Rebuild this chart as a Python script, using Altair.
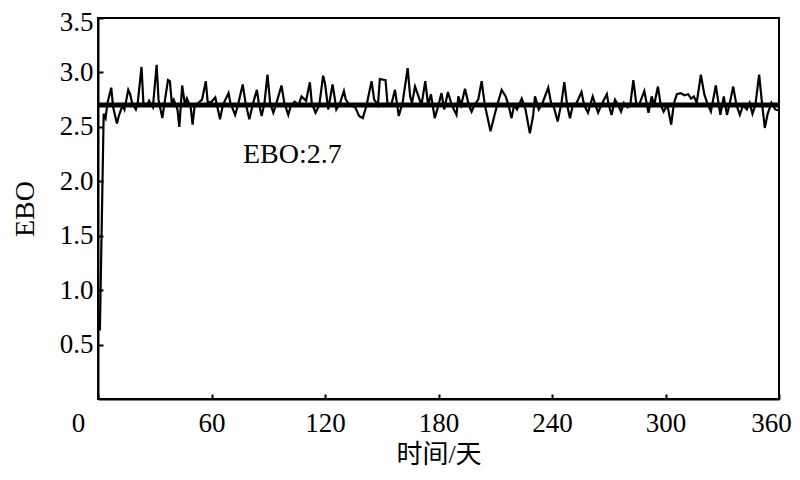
import altair as alt
import pandas as pd

days = [1, 3, 4, 5, 7, 8, 10, 11, 13, 14, 16, 17, 18, 20, 21, 23, 24, 26, 27, 29,
        31, 32, 34, 35, 37, 38, 39, 40, 42, 43, 44.5, 46, 47, 49, 50, 51, 53, 55, 57, 58,
        60, 62, 64.5, 66, 69, 70, 72.5, 74, 76.5, 78, 80, 82, 84, 85, 86.5, 88, 89.6, 91, 92.7, 94,
        97, 98.5, 100.6, 102, 104, 106, 107.6, 110, 112, 113, 115, 117, 119, 120, 121.7, 124, 125, 126, 128, 130,
        131, 133, 136, 138, 140, 142, 144.6, 146, 148, 149, 152, 153, 155, 157, 159, 161, 163.7, 165, 166, 167.6,
        169, 171, 173, 174.5, 176, 178, 180, 181.6, 183, 185, 187, 189.5, 190.5, 192, 194, 196, 197.5, 199, 201, 202.8,
        204.5, 207.5, 209.5, 211, 213.4, 215.5, 217, 218.6, 220, 221.5, 224, 226, 228.3, 230, 231, 233, 235, 238, 239.5, 241,
        243, 245, 246.5, 248, 249.5, 251, 253, 255.6, 257, 259, 261.5, 263, 264.4, 266, 269, 270, 271.5, 273.3, 275, 276.5,
        278, 280, 281.5, 283, 284.5, 286, 288.8, 291, 292.7, 294, 296, 297.5, 299, 301, 303, 304.5, 306, 308, 310, 312,
        313.5, 315, 316.5, 318.7, 320.5, 322, 324, 326.6, 328, 329, 330.8, 332.5, 334, 335.8, 337.5, 339.3, 341, 343, 344.5, 346,
        347.5, 349.5, 351, 352.5, 354, 356, 358, 360]
ebo = [0.63, 2.62, 2.58, 2.72, 2.86, 2.68, 2.53, 2.60, 2.70, 2.66, 2.84, 2.80, 2.72, 2.66, 2.72, 3.05, 2.72, 2.70, 2.74, 2.68,
       3.07, 2.75, 2.58, 2.70, 2.93, 2.92, 2.72, 2.75, 2.66, 2.50, 2.88, 2.70, 2.76, 2.68, 2.52, 2.68, 2.72, 2.75, 2.92, 2.72,
       2.73, 2.77, 2.57, 2.70, 2.81, 2.72, 2.61, 2.70, 2.89, 2.72, 2.57, 2.72, 2.84, 2.72, 2.60, 2.72, 2.98, 2.72, 2.63, 2.70,
       2.88, 2.72, 2.61, 2.70, 2.73, 2.70, 2.78, 2.74, 2.91, 2.72, 2.63, 2.70, 2.97, 2.90, 2.66, 2.89, 2.78, 2.66, 2.72, 2.83,
       2.75, 2.70, 2.68, 2.60, 2.58, 2.70, 2.92, 2.75, 2.70, 2.94, 2.93, 2.72, 2.70, 2.84, 2.60, 2.72, 3.04, 2.78, 2.72, 2.87,
       2.80, 2.70, 2.92, 2.70, 2.80, 2.58, 2.70, 2.81, 2.66, 2.82, 2.70, 2.61, 2.78, 2.70, 2.85, 2.70, 2.64, 2.70, 2.75, 2.92,
       2.70, 2.46, 2.60, 2.70, 2.84, 2.78, 2.70, 2.58, 2.70, 2.66, 2.76, 2.66, 2.44, 2.60, 2.78, 2.66, 2.72, 2.86, 2.72, 2.68,
       2.55, 2.72, 2.91, 2.70, 2.58, 2.70, 2.72, 2.82, 2.70, 2.63, 2.78, 2.70, 2.63, 2.70, 2.80, 2.70, 2.61, 2.75, 2.70, 2.64,
       2.72, 2.68, 2.72, 2.93, 2.72, 2.70, 2.83, 2.63, 2.78, 2.70, 2.87, 2.70, 2.64, 2.70, 2.52, 2.72, 2.80, 2.81, 2.79, 2.80,
       2.76, 2.78, 2.72, 2.98, 2.80, 2.72, 2.64, 2.88, 2.72, 2.61, 2.78, 2.61, 2.72, 2.87, 2.70, 2.61, 2.70, 2.66, 2.72, 2.62,
       2.70, 2.98, 2.72, 2.49, 2.62, 2.72, 2.66, 2.65]

x_ticks = [0, 60, 120, 180, 240, 300, 360]
y_ticks = [0.5, 1.0, 1.5, 2.0, 2.5, 3.0, 3.5]
mean_value = [2.7]
note_day = [76.6]
note_value = [2.17]
note_text = ["EBO:2.7"]

FONT = "Liberation Serif"
CJK_FONT = "'Liberation Serif', 'Noto Sans CJK SC', serif"

series = pd.DataFrame({"day": days, "ebo": ebo})
mean_df = pd.DataFrame({"ebo": mean_value})
note_df = pd.DataFrame({"day": note_day, "ebo": note_value, "label": note_text})

x_enc = alt.X(
    "day:Q",
    scale=alt.Scale(domain=[0, 360], nice=False, zero=False),
    axis=alt.Axis(
        values=x_ticks,
        title="时间/天",
        titleFont=CJK_FONT,
        titleFontSize=26,
        titleFontWeight="normal",
        titleColor="black",
        titlePadding=5,
        labelFont=FONT,
        labelFontSize=27,
        labelColor="black",
        labelPadding=16,
        labelOffset={
            "condition": [
                {"test": "datum.value === 0", "value": -20},
                {"test": "datum.value === 360", "value": -8},
            ],
            "value": 0,
        },
        labelFlush=False,
        labelOverlap=False,
        tickSize={"expr": "-5"},
        tickColor="black",
        tickWidth=2,
        domainColor="black",
        domainWidth=2,
        grid=False,
    ),
)
y_enc = alt.Y(
    "ebo:Q",
    scale=alt.Scale(domain=[0, 3.5], nice=False),
    axis=alt.Axis(
        values=y_ticks,
        format=".1f",
        title="EBO",
        titleFont=FONT,
        titleFontSize=28,
        titleFontWeight="normal",
        titleColor="black",
        titlePadding=20,
        labelFont=FONT,
        labelFontSize=27,
        labelColor="black",
        labelPadding=10,
        labelOffset={"condition": {"test": "datum.value === 3.5", "value": 4}, "value": 0},
        labelFlush=False,
        labelOverlap=False,
        tickSize={"expr": "-5"},
        tickColor="black",
        tickWidth=2,
        domainColor="black",
        domainWidth=2,
        grid=False,
    ),
)

line = alt.Chart(series).mark_line(color="black", strokeWidth=2.2, clip=True).encode(x=x_enc, y=y_enc)
rule = alt.Chart(mean_df).mark_rule(color="black", strokeWidth=5).encode(y="ebo:Q")
note = alt.Chart(note_df).mark_text(
    font=FONT, fontSize=28, color="black", align="left", baseline="alphabetic"
).encode(x="day:Q", y="ebo:Q", text="label:N")

chart = (
    alt.layer(line, rule, note)
    .properties(
        width=681,
        height=381,
        autosize=alt.AutoSizeParams(type="none"),
        padding={"left": 90, "top": 10, "right": 13, "bottom": 73},
        background="white",
    )
    .configure_view(stroke="black", strokeWidth=2)
)

chart.save("out.html", embed_options={"renderer": "svg", "actions": False})
